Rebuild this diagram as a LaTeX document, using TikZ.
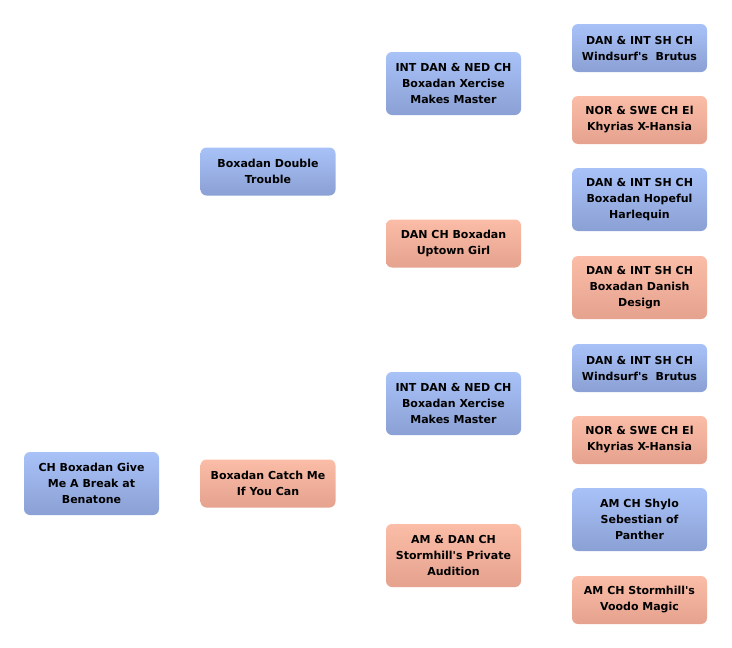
\documentclass[tikz,border=0pt]{standalone}
\usepackage{fontspec}
\setmainfont{DejaVu Sans}[Ligatures=TeXOff]
\usepackage{xcolor}
\usepackage{tikz}
\usetikzlibrary{positioning}
\definecolor{sireTop}{HTML}{A8C2F8}
\definecolor{sireBottom}{HTML}{8BA0D4}
\definecolor{damTop}{HTML}{FBBDA7}
\definecolor{damBottom}{HTML}{E5A28E}

\tikzset{
  dogbox/.style={rounded corners=6pt, minimum width=135pt, align=center,
    inner sep=0pt, font=\fontsize{11}{16}\selectfont\bfseries},
  twoline/.style={minimum height=48pt},
  threeline/.style={minimum height=63pt},
  sire/.style={dogbox, top color=sireTop, bottom color=sireBottom},
  dam/.style={dogbox, top color=damTop, bottom color=damBottom}
}

\begin{document}
\begin{tikzpicture}[x=1pt, y=-1pt]
  % Page frame
  \useasboundingbox (0,0) rectangle (732,648);

  % Dog itself
  \node[sire, threeline] (dog) at (91.5, 483.5) {CH Boxadan Give\\Me A Break at\\Benatone};

  % Parents
  \node[sire, twoline] (sire) at (268, 171.5) {Boxadan Double\\Trouble};
  \node[dam, twoline] (dam) at (268, 483.5) {Boxadan Catch Me\\If You Can};

  % Grandparents
  \node[sire, threeline] (siresire) at (453.5, 83.5) {INT DAN \& NED CH\\Boxadan Xercise\\Makes Master};
  \node[dam, twoline] (siredam) at (453.5, 243.5) {DAN CH Boxadan\\Uptown Girl};
  \node[sire, threeline] (damsire) at (453.5, 403.5) {INT DAN \& NED CH\\Boxadan Xercise\\Makes Master};
  \node[dam, threeline] (damdam) at (453.5, 555.5) {AM \& DAN CH\\Stormhill's Private\\Audition};

  % Great-grandparents
  \node[sire, twoline] (gg1) at (639.5, 48) {DAN \& INT SH CH\\Windsurf's\ \ Brutus};
  \node[dam, twoline] (gg2) at (639.5, 120) {NOR \& SWE CH El\\Khyrias X-Hansia};
  \node[sire, threeline] (gg3) at (639.5, 199.5) {DAN \& INT SH CH\\Boxadan Hopeful\\Harlequin};
  \node[dam, threeline] (gg4) at (639.5, 287.5) {DAN \& INT SH CH\\Boxadan Danish\\Design};
  \node[sire, twoline] (gg5) at (639.5, 368) {DAN \& INT SH CH\\Windsurf's\ \ Brutus};
  \node[dam, twoline] (gg6) at (639.5, 440) {NOR \& SWE CH El\\Khyrias X-Hansia};
  \node[sire, threeline] (gg7) at (639.5, 519.5) {AM CH Shylo\\Sebestian of\\Panther};
  \node[dam, twoline] (gg8) at (639.5, 600) {AM CH Stormhill's\\Voodo Magic};
\end{tikzpicture}
\end{document}
